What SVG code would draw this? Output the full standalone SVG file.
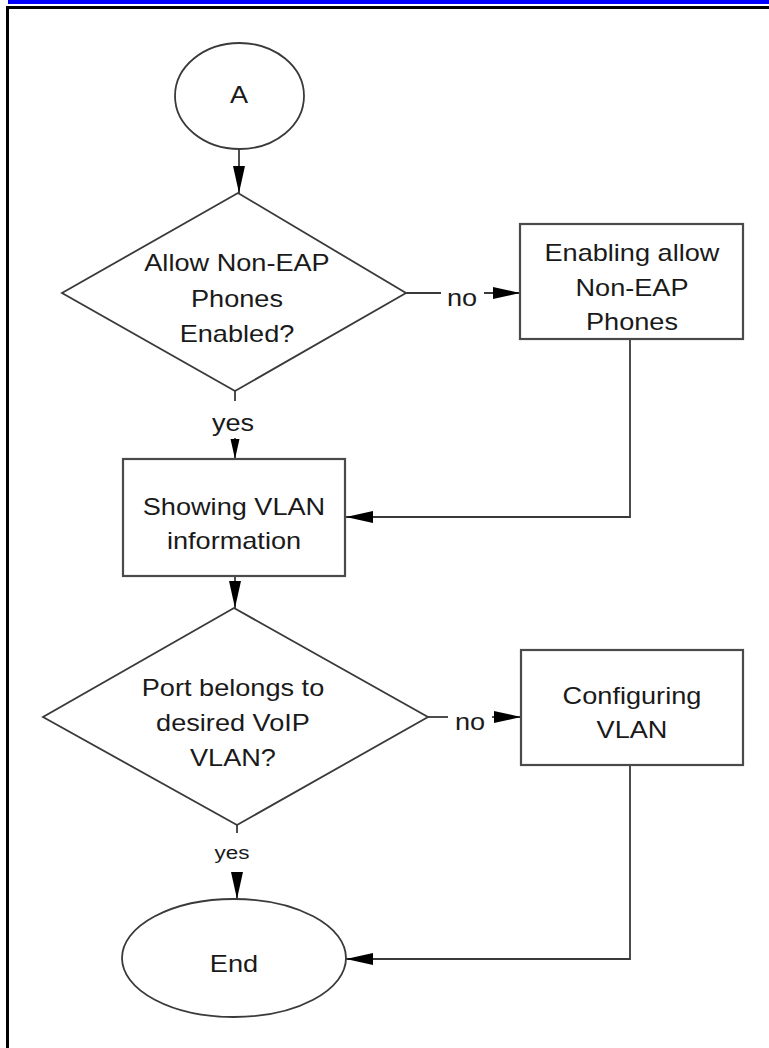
<svg xmlns="http://www.w3.org/2000/svg" width="769" height="1048" viewBox="0 0 769 1048">
<style>
.shape{fill:#fff;stroke:#3a3a3a;stroke-width:1.8}
.box{fill:#fff;stroke:#4a4a4a;stroke-width:2.2}
.ln{fill:none;stroke:#3a3a3a;stroke-width:1.8}
.t{font-family:"Liberation Sans",Arial,sans-serif;font-size:23px;fill:#1a1a1a;text-anchor:middle;transform-box:fill-box;transform-origin:center;transform:scaleX(1.18)}
.s{font-size:19px}
</style>
<defs>
<marker id="ah" markerUnits="userSpaceOnUse" markerWidth="28" markerHeight="14" refX="27" refY="6" orient="auto" viewBox="0 0 28 12">
<path d="M0,0 L27,6 L0,12 Z" fill="#000"/>
</marker>
<marker id="ahs" markerUnits="userSpaceOnUse" markerWidth="21" markerHeight="10" refX="20" refY="4.5" orient="auto" viewBox="0 0 21 9">
<path d="M0,0 L20,4.5 L0,9 Z" fill="#000"/>
</marker>
</defs>
<rect width="769" height="1048" fill="#fff"/>
<g id="frame">
<rect x="8" y="0" width="761" height="4" fill="#0000ff"/>
<rect x="6" y="6" width="763" height="3" fill="#000"/>
<rect x="6" y="6" width="3" height="1042" fill="#000"/>
</g>
<g id="connectors">
<line class="ln" x1="239" y1="149" x2="239" y2="193" marker-end="url(#ah)"/>
<line class="ln" x1="406" y1="293" x2="441" y2="293"/>
<text class="t" x="462" y="306">no</text>
<line class="ln" x1="484" y1="293" x2="520" y2="293" marker-end="url(#ah)"/>
<line class="ln" x1="235" y1="391" x2="235" y2="401"/>
<text class="t" x="233" y="431">yes</text>
<line class="ln" x1="235" y1="438" x2="235" y2="459" marker-end="url(#ahs)"/>
<polyline class="ln" points="630,339 630,517 346,517" marker-end="url(#ah)"/>
<line class="ln" x1="235" y1="576" x2="235" y2="608" marker-end="url(#ah)"/>
<line class="ln" x1="428" y1="717" x2="448" y2="717"/>
<text class="t" x="470" y="730">no</text>
<line class="ln" x1="492" y1="717" x2="521" y2="717" marker-end="url(#ah)"/>
<line class="ln" x1="237" y1="825" x2="237" y2="833"/>
<text class="t s" x="232" y="859">yes</text>
<line class="ln" x1="237" y1="872" x2="237" y2="899" marker-end="url(#ah)"/>
<polyline class="ln" points="630,765 630,959 346,959" marker-end="url(#ah)"/>
</g>
<g id="start">
<ellipse class="shape" cx="239.5" cy="96" rx="64.5" ry="53"/>
<text class="t" x="239" y="103">A</text>
</g>
<g id="decision1">
<polygon class="shape" points="238,193 406,293 235,391 62,293"/>
<text class="t" x="237" y="271">Allow Non-EAP</text>
<text class="t" x="237" y="307">Phones</text>
<text class="t" x="237" y="342">Enabled?</text>
</g>
<g id="enable">
<rect class="box" x="520" y="224" width="223" height="115"/>
<text class="t" x="632" y="261">Enabling allow</text>
<text class="t" x="632" y="296">Non-EAP</text>
<text class="t" x="632" y="330">Phones</text>
</g>
<g id="showvlan">
<rect class="box" x="123" y="459" width="222" height="117"/>
<text class="t" x="234" y="515">Showing VLAN</text>
<text class="t" x="234" y="549">information</text>
</g>
<g id="decision2">
<polygon class="shape" points="234,608 428,717 237,825 43,717"/>
<text class="t" x="233" y="696">Port belongs to</text>
<text class="t" x="233" y="731">desired VoIP</text>
<text class="t" x="233" y="766">VLAN?</text>
</g>
<g id="configvlan">
<rect class="box" x="521" y="650" width="222" height="115"/>
<text class="t" x="632" y="704">Configuring</text>
<text class="t" x="632" y="738">VLAN</text>
</g>
<g id="end">
<ellipse class="shape" cx="234" cy="958" rx="112" ry="59"/>
<text class="t" x="234" y="972">End</text>
</g>
</svg>
